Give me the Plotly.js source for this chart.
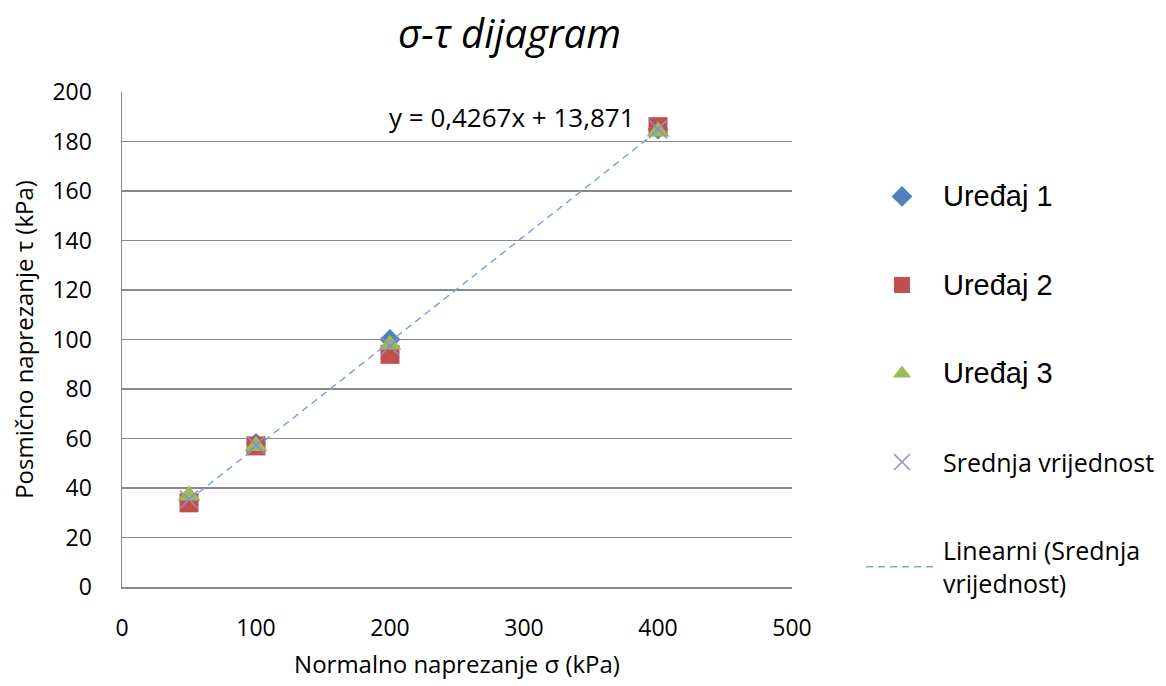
<!DOCTYPE html>
<html>
<head>
<meta charset="utf-8">
<script src="https://cdn.plot.ly/plotly-3.0.1.min.js"></script>
<style>html,body{margin:0;padding:0;background:#fff;}#chart{width:1166px;height:686px;}</style>
</head>
<body>
<div id="chart"></div>
<script>
const sigma = [50, 100, 200, 400];
const uredaj1 = [35, 58, 100, 185];
const uredaj2 = [34, 57, 94, 186];
const uredaj3 = [37, 57, 98, 184];
const seriesNames = ['Uređaj 1', 'Uređaj 2', 'Uređaj 3', 'Srednja vrijednost', 'Linearni (Srednja<br>vrijednost)'];
const trendLabel = 'y = 0,4267x + 13,871';
const yTicks = [0, 20, 40, 60, 80, 100, 120, 140, 160, 180, 200];
const xTicks = [0, 100, 200, 300, 400, 500];

const mean = sigma.map((_, i) => (uredaj1[i] + uredaj2[i] + uredaj3[i]) / 3);
const n = sigma.length;
const xb = sigma.reduce((a, b) => a + b, 0) / n;
const yb = mean.reduce((a, b) => a + b, 0) / n;
let sxy = 0, sxx = 0;
for (let i = 0; i < n; i++) { sxy += (sigma[i] - xb) * (mean[i] - yb); sxx += (sigma[i] - xb) ** 2; }
const slope = sxy / sxx, icpt = yb - slope * xb;
const trendX = [Math.min(...sigma), Math.max(...sigma)];
const trendY = trendX.map(x => slope * x + icpt);

const F = 'Open Sans, sans-serif';
const big = s => '<span style="font-size:29px;font-family:Liberation Sans">' + s + '</span>';

const traces = [
  {x: sigma, y: uredaj1, mode: 'markers', type: 'scatter', name: big(seriesNames[0]), legendgroup: 'a',
   marker: {symbol: 'diamond', size: 16, color: '#4F81BD'}},
  {x: sigma, y: uredaj2, mode: 'markers', type: 'scatter', name: big(seriesNames[1]), legendgroup: 'b',
   marker: {symbol: 'square', size: 19, color: '#C0504D'}},
  {x: sigma, y: uredaj3, mode: 'markers', type: 'scatter', name: big(seriesNames[2]), legendgroup: 'c',
   marker: {symbol: 'triangle-up', size: 20, color: '#9BBB59'}},
  {x: sigma, y: mean, mode: 'markers', type: 'scatter', name: seriesNames[3], legendgroup: 'd',
   marker: {symbol: 'x-thin-open', size: 18, color: '#9A86BE', line: {width: 1.5, color: '#9A86BE'}}},
  {x: trendX, y: trendY, mode: 'lines', type: 'scatter', name: seriesNames[4], legendgroup: 'e',
   line: {color: '#7FA5D8', width: 1.5, dash: '7px,5px'}}
];

const layout = {
  width: 1166, height: 686,
  paper_bgcolor: '#fff', plot_bgcolor: '#fff',
  margin: {l: 122, r: 374, t: 92, b: 99, autoexpand: false},
  title: {text: 'σ-τ dijagram', font: {family: F, size: 40, color: '#000', style: 'italic'},
          x: 0.437, xanchor: 'center', y: 0.95, yanchor: 'middle'},
  xaxis: {range: [0, 500], tickvals: xTicks, showgrid: false, zeroline: false,
          showline: true, linecolor: '#888', linewidth: 1.5, ticks: '', ticklabelstandoff: 20,
          tickfont: {family: F, size: 23, color: '#000'},
          title: {text: 'Normalno naprezanje σ (kPa)', font: {family: F, size: 24, color: '#000'}, standoff: 14}},
  yaxis: {range: [0, 200], tickvals: yTicks, showgrid: true, gridcolor: '#888', gridwidth: 1.2, zeroline: false,
          showline: true, linecolor: '#888', linewidth: 1.5, ticks: '', ticklabelstandoff: 24,
          tickfont: {family: F, size: 23, color: '#000'},
          title: {text: 'Posmično naprezanje τ (kPa)', font: {family: F, size: 24, color: '#000'}, standoff: 12}},
  showlegend: true,
  legend: {x: 1.103, xanchor: 'left', y: 0.835, yanchor: 'top', tracegroupgap: 53,
           font: {family: F, size: 25, color: '#000'}, itemwidth: 72, bgcolor: 'rgba(0,0,0,0)'},
  annotations: [{x: 291, y: 190, xref: 'x', yref: 'y', text: trendLabel, showarrow: false,
                 font: {family: F, size: 26, color: '#000'}, xanchor: 'center', yanchor: 'middle'}]
};

Plotly.newPlot('chart', traces, layout, {displayModeBar: false, staticPlot: true});
</script>
</body>
</html>
